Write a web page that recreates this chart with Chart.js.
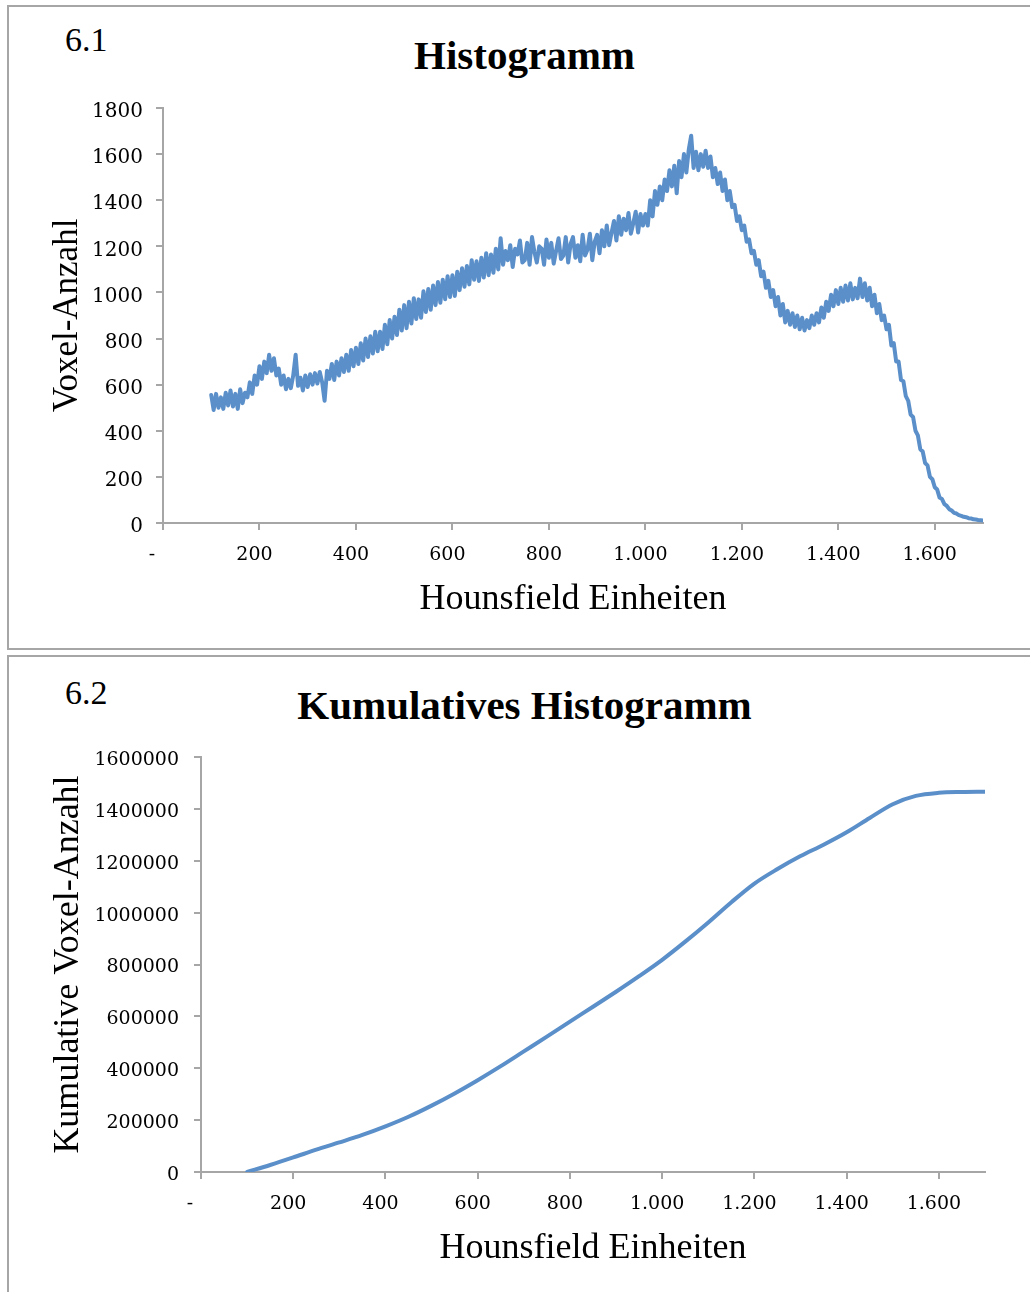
<!DOCTYPE html>
<html lang="de">
<head>
<meta charset="utf-8">
<title>Histogramm und kumulatives Histogramm</title>
<script src="https://cdn.jsdelivr.net/npm/chart.js@4.4.1/dist/chart.umd.min.js"></script>
<style>
  html, body { margin: 0; padding: 0; background: #fff; }
  body { position: relative; width: 1030px; height: 1292px; overflow: hidden; }
  .box { position: absolute; left: 7px; width: 1060px; border: 2px solid #a6a6a6; box-sizing: border-box; }
  .num { position: absolute; left: 65px; font: 34px/1 "Liberation Serif", "Times New Roman", serif; color: #000; }
  .title { position: absolute; left: 524.5px; transform: translateX(-50%); white-space: nowrap;
           font: bold 41px/1 "Liberation Serif", "Times New Roman", serif; color: #000; }
  canvas { position: absolute; left: 0; }
</style>
</head>
<body>
<div class="box" style="top:5px; height:645px;"></div>
<div class="box" style="top:655px; height:700px;"></div>

<div class="num" style="top:23px;">6.1</div>
<div class="title" style="top:35px;">Histogramm</div>
<canvas id="hist" width="1030" height="648" style="top:0;"></canvas>

<div class="num" style="top:676px;">6.2</div>
<div class="title" style="top:685px;">Kumulatives Histogramm</div>
<canvas id="cum" width="1030" height="642" style="top:650px;"></canvas>

<script>
// Histogram: voxel counts per HU bin, first bin at 100 HU, one value every 5 HU
const histStartHU = 100;
const histStepHU = 5;
const voxelCounts = [
  555, 490, 560, 500, 545,   495, 565, 510, 575, 505,
  560, 495, 580, 520, 565,   545, 610, 560, 640, 600,
  680, 625, 700, 650, 730,   660, 715, 640, 670, 600,
  640, 580, 625, 585, 640,   730, 595, 630, 575, 640,
  590, 645, 600, 650, 605,   655, 610, 530, 660, 625,
  690, 620, 700, 640, 715,   655, 730, 660, 750, 680,
  760, 690, 780, 705, 800,   720, 810, 735, 830, 745,
  830, 755, 860, 775, 880,   800, 895, 815, 925, 835,
  945, 845, 960, 865, 975,   885, 970, 890, 1005, 915,
  1015, 925, 1030, 945, 1045, 955, 1055, 970, 1070, 980,
  1075, 985, 1090, 1010, 1105, 1025, 1115, 1035, 1140, 1055,
  1135, 1050, 1150, 1065, 1170, 1075, 1165, 1085, 1190, 1100,
  1235, 1120, 1180, 1140, 1205, 1110, 1190, 1165, 1225, 1130,
  1140, 1215, 1120, 1240, 1175, 1130, 1200, 1190, 1120, 1230,
  1150, 1215, 1125, 1180, 1235, 1145, 1160, 1240, 1130, 1210,
  1240, 1150, 1205, 1135, 1250, 1160, 1185, 1255, 1140, 1220,
  1250, 1170, 1270, 1200, 1290, 1205, 1260, 1310, 1225, 1330,
  1250, 1320, 1270, 1345, 1255, 1300, 1350, 1260, 1340, 1290,
  1340, 1290, 1400, 1330, 1440, 1380, 1460, 1400, 1490, 1440,
  1530, 1460, 1550, 1430, 1570, 1500, 1600, 1520, 1620, 1680,
  1540, 1610, 1530, 1600, 1545, 1615, 1540, 1590, 1500, 1540,
  1470, 1520, 1440, 1490, 1400, 1440, 1370, 1380, 1310, 1330,
  1270, 1290, 1220, 1230, 1170, 1180, 1120, 1140, 1070, 1090,
  1020, 1050, 980, 1010, 940,   980, 900, 950, 870, 920,
  860, 910, 850, 900, 840,     890, 835, 880, 845, 900,
  860, 910, 870, 935, 890,     960, 920, 990, 940, 1010,
  950, 1020, 960, 1030, 965,   1040, 970, 1020, 975, 1060,
  980, 1040, 965, 1020, 940,   990, 910, 950, 880, 900,
  840, 860, 770, 780, 700,     700, 620, 615, 550, 530,
  470, 460, 400, 380, 320,     310, 260, 250, 200, 190,
  155, 145, 110, 104, 82,      74, 60, 54, 44, 41,
  34, 31, 27, 25, 21,          20, 16, 15, 13, 12,
  11
];

// Cumulative histogram, sampled every 50 HU
const cumHU = [100, 150, 200, 250, 300, 350, 400, 450, 500, 550, 600, 650, 700, 750, 800, 850,
               900, 950, 1000, 1050, 1100, 1150, 1200, 1250, 1300, 1350, 1400, 1450, 1500, 1550,
               1600, 1650, 1700];
const cumCounts = [0, 27000, 56000, 86000, 114000, 143000, 176000, 213000, 256000, 303000, 354000,
                   408000, 465000, 522000, 580000, 637000, 695000, 755000, 818000, 888000, 962000,
                   1040000, 1112000, 1168000, 1218000, 1262000, 1310000, 1365000, 1418000, 1450000,
                   1462000, 1465000, 1466000];

const LINE = '#5b8fc9';
const AXIS = '#a6a6a6';
const tickFont = { family: 'DejaVu Serif', size: 19 };
const titleFont = { family: 'Liberation Serif', size: 36 };

// German number format with "-" for zero
function fmtHU(v) {
  if (v === 0) return '-  ';
  return String(v).replace(/\B(?=(\d{3})+(?!\d))/g, '.');
}

function axisX(title, xHeight) {
  return {
    type: 'linear', min: 0, max: 1700,
    afterFit: s => { s.height = xHeight; },
    ticks: { stepSize: 200, includeBounds: false, autoSkip: false, maxRotation: 0, minRotation: 0,
             labelOffset: -5, padding: 14, font: tickFont, color: '#000', callback: fmtHU },
    grid: { drawOnChartArea: false, tickLength: 7, color: AXIS, lineWidth: 2 },
    border: { color: AXIS, width: 2 },
    title: { display: true, text: title, font: titleFont, color: '#000', padding: 0 }
  };
}

function axisY(title, max, step, yWidth, pad, size, fontSize, offset) {
  return {
    min: 0, max: max,
    afterFit: s => { s.width = yWidth; },
    ticks: { stepSize: step, includeBounds: false, labelOffset: offset, padding: pad,
             font: { family: 'DejaVu Serif', size: fontSize }, color: '#000', callback: v => String(v) },
    grid: { drawOnChartArea: false, tickLength: 7, color: AXIS, lineWidth: 2 },
    border: { color: AXIS, width: 2 },
    title: { display: true, text: title, font: { family: 'Liberation Serif', size: size }, color: '#000', padding: 0 }
  };
}

const commonPlugins = { legend: { display: false }, tooltip: { enabled: false }, title: { display: false } };

const histPoints = voxelCounts.map((v, i) => ({ x: histStartHU + i * histStepHU, y: v }));

new Chart(document.getElementById('hist'), {
  type: 'line',
  data: { datasets: [{ data: histPoints, borderColor: LINE, borderWidth: 4, pointRadius: 0,
                       tension: 0, fill: false, borderJoinStyle: 'round', borderCapStyle: 'round' }] },
  options: {
    responsive: false, animation: false,
    layout: { padding: { left: 47, top: 108, right: 47, bottom: 27 } },
    plugins: commonPlugins,
    scales: { x: axisX('Hounsfield Einheiten', 98), y: axisY('Voxel-Anzahl', 1800, 200, 116, 13, 35, 20, 4) }
  }
});

const cumPoints = cumHU.map((h, i) => ({ x: h, y: cumCounts[i] }));

new Chart(document.getElementById('cum'), {
  type: 'line',
  data: { datasets: [{ data: cumPoints, borderColor: LINE, borderWidth: 4, pointRadius: 0,
                       cubicInterpolationMode: 'monotone', fill: false, borderCapStyle: 'round' }] },
  options: {
    responsive: false, animation: false,
    layout: { padding: { left: 47, top: 107, right: 45, bottom: 22 } },
    plugins: commonPlugins,
    scales: { x: axisX('Hounsfield Einheiten', 98), y: axisY('Kumulative Voxel-Anzahl', 1600000, 200000, 154, 15, 36, 19, 3) }
  }
});
</script>
</body>
</html>
